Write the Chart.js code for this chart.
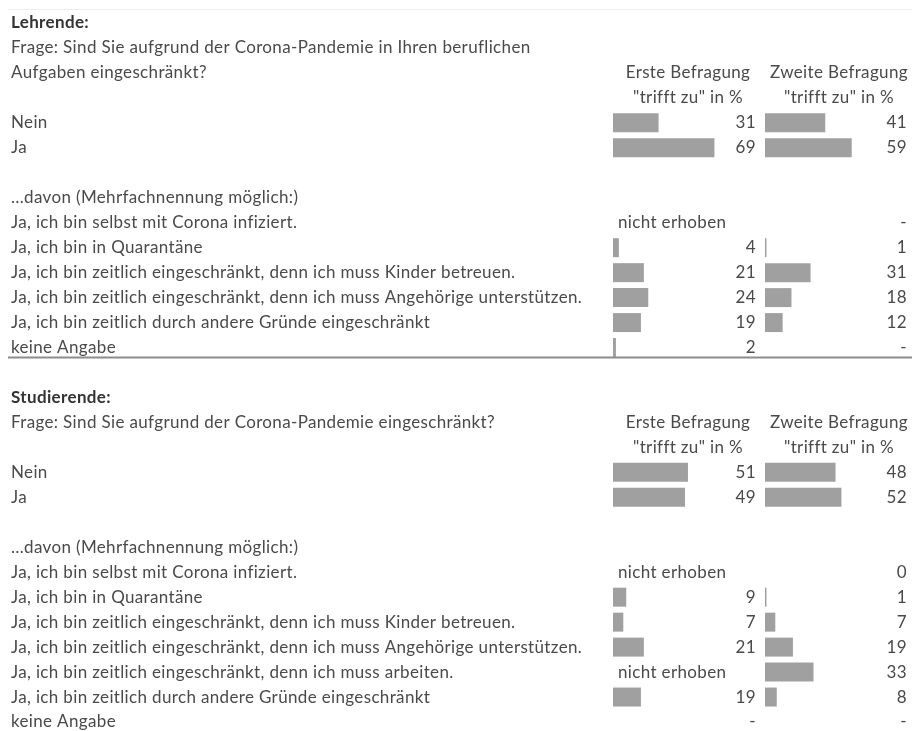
<!DOCTYPE html>
<html lang="de">
<head>
<meta charset="utf-8">
<title>Corona-Einschränkungen Lehrende / Studierende</title>
<script src="https://cdn.jsdelivr.net/npm/chart.js@4/dist/chart.umd.min.js"></script>
<style>
  html, body { margin: 0; padding: 0; background: #fff; }
  #wrap { position: relative; width: 919px; height: 731px; }
</style>
</head>
<body>
<div id="wrap"><canvas id="chart"></canvas></div>
<script>
// Zeilen der Tabelle (leere Strings = Leerzeilen)
const rowLabels = [
    'Lehrende:',
    'Frage: Sind Sie aufgrund der Corona-Pandemie in Ihren beruflichen',
    'Aufgaben eingeschränkt?',
    '',
    'Nein',
    'Ja',
    '',
    '…davon (Mehrfachnennung möglich:)',
    'Ja, ich bin selbst mit Corona infiziert.',
    'Ja, ich bin in Quarantäne',
    'Ja, ich bin zeitlich eingeschränkt, denn ich muss Kinder betreuen.',
    'Ja, ich bin zeitlich eingeschränkt, denn ich muss Angehörige unterstützen.',
    'Ja, ich bin zeitlich durch andere Gründe eingeschränkt',
    'keine Angabe',
    '',
    'Studierende:',
    'Frage: Sind Sie aufgrund der Corona-Pandemie eingeschränkt?',
    '',
    'Nein',
    'Ja',
    '',
    '…davon (Mehrfachnennung möglich:)',
    'Ja, ich bin selbst mit Corona infiziert.',
    'Ja, ich bin in Quarantäne',
    'Ja, ich bin zeitlich eingeschränkt, denn ich muss Kinder betreuen.',
    'Ja, ich bin zeitlich eingeschränkt, denn ich muss Angehörige unterstützen.',
    'Ja, ich bin zeitlich eingeschränkt, denn ich muss arbeiten.',
    'Ja, ich bin zeitlich durch andere Gründe eingeschränkt',
    'keine Angabe'
];

// "trifft zu" in % - Zahlen werden als Balken gezeichnet, Texte nur geschrieben
const ersteBefragung = [
    null, null, null, null, 31, 69, null, null,
    'nicht erhoben', 4, 21, 24, 19, 2,
    null, null, null, null, 51, 49, null, null,
    'nicht erhoben', 9, 7, 21, 'nicht erhoben', 19, '-'
];
const zweiteBefragung = [
    null, null, null, null, 41, 59, null, null,
    '-', 1, 31, 18, 12, '-',
    null, null, null, null, 48, 52, null, null,
    0, 1, 7, 19, 33, 8, '-'
];

const titleRows = [0, 15];
const headerRows = [2, 16];
const columnTitles = ['Erste Befragung', 'Zweite Befragung'];
const columnSubtitle = '"trifft zu" in %';

const FONT = 'Lato, "Noto Sans", sans-serif';
const TEXT_COLOR = '#4a4a4a';
const BAR_COLOR = '#a0a0a0';

function toBar(v) {
    return typeof v === 'number' ? v : null;
}

// Plugin: Texte, Spaltenköpfe, Werte und Trennlinie
const tablePlugin = {
    id: 'tableText',
    afterDatasetsDraw(chart) {
        const ctx = chart.ctx;
        const y = chart.scales.y;
        const x1 = chart.scales.x1;
        const x2 = chart.scales.x2;
        const fontSize = 17;

        ctx.save();
        ctx.textBaseline = 'middle';
        ctx.letterSpacing = '0.35px';

        // feine Linie oben
        ctx.strokeStyle = '#eeeeee';
        ctx.lineWidth = 1;
        ctx.beginPath();
        ctx.moveTo(8, 9.5);
        ctx.lineTo(912, 9.5);
        ctx.stroke();

        // Zeilenbeschriftungen
        rowLabels.forEach((label, i) => {
            if (!label) return;
            const bold = titleRows.includes(i);
            ctx.font = (bold ? 'bold ' : '') + fontSize + 'px ' + FONT;
            ctx.fillStyle = bold ? '#333333' : TEXT_COLOR;
            ctx.textAlign = 'left';
            ctx.fillText(label, 11, y.getPixelForValue(i));
        });

        // Spaltenköpfe
        ctx.font = fontSize + 'px ' + FONT;
        ctx.fillStyle = TEXT_COLOR;
        ctx.textAlign = 'center';
        headerRows.forEach(r => {
            const centers = [688, 839];
            columnTitles.forEach((t, c) => {
                ctx.fillText(t, centers[c], y.getPixelForValue(r));
                ctx.fillText(columnSubtitle, centers[c], y.getPixelForValue(r + 1));
            });
        });

        // Werte
        const drawValues = (values, right, scale) => {
            values.forEach((v, i) => {
                if (v === null) return;
                const py = y.getPixelForValue(i);
                if (v === 'nicht erhoben') {
                    ctx.textAlign = 'left';
                    ctx.fillText(v, scale.getPixelForValue(0) + 5, py);
                } else {
                    ctx.textAlign = 'right';
                    ctx.fillText(String(v), right, py);
                }
            });
        };
        drawValues(ersteBefragung, 756, x1);
        drawValues(zweiteBefragung, 907, x2);

        // Trennlinie zwischen den Blöcken
        const lineY = y.getPixelForValue(13) + 10;
        ctx.strokeStyle = '#8c8c8c';
        ctx.lineWidth = 2;
        ctx.beginPath();
        ctx.moveTo(8, lineY);
        ctx.lineTo(912, lineY);
        ctx.stroke();

        ctx.restore();
    }
};

const ctx = document.getElementById('chart').getContext('2d');
new Chart(ctx, {
    type: 'bar',
    data: {
        labels: rowLabels,
        datasets: [
            {
                label: columnTitles[0],
                data: ersteBefragung.map(toBar),
                xAxisID: 'x1',
                backgroundColor: BAR_COLOR,
                borderWidth: 0,
                grouped: false,
                barPercentage: 0.76,
                categoryPercentage: 1
            },
            {
                label: columnTitles[1],
                data: zweiteBefragung.map(toBar),
                xAxisID: 'x2',
                backgroundColor: BAR_COLOR,
                borderWidth: 0,
                grouped: false,
                barPercentage: 0.76,
                categoryPercentage: 1
            }
        ]
    },
    options: {
        indexAxis: 'y',
        responsive: true,
        maintainAspectRatio: false,
        animation: false,
        layout: { padding: { left: 613, right: 7, top: 23, bottom: 9 } },
        scales: {
            y: { display: false, offset: false, grid: { display: false } },
            // 1,47 px je Prozentpunkt, zweite Spalte beginnt 152 px weiter rechts
            x1: { type: 'linear', display: false, min: 0, max: 203.4 },
            x2: { type: 'linear', display: false, min: -103.4, max: 100 }
        },
        plugins: {
            legend: { display: false },
            tooltip: { enabled: false }
        }
    },
    plugins: [tablePlugin]
});
</script>
</body>
</html>
